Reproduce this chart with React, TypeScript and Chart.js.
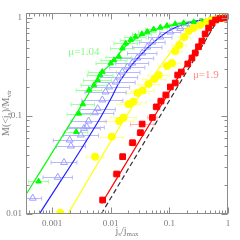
import React, { useEffect, useRef } from "react";
import { Chart, registerables } from "chart.js";

Chart.register(...registerables);

// ---- axes ----
const xTicks = [0.001, 0.01, 0.1, 1];
const yTicks = [0.01, 0.1, 1];
const xMin = 3.6e-4;
const xMax = 1;
const yMin = 0.01;
const yMax = 1.125;

// ---- green filled triangles (mu = 1.04) ----
const greenX = [0.00059, 0.00258, 0.00287, 0.00335, 0.00428, 0.0052, 0.006, 0.0066, 0.0072, 0.01, 0.0114, 0.0138, 0.0158, 0.018, 0.022, 0.0265, 0.034, 0.042, 0.054, 0.07, 0.091, 0.126, 0.175, 0.26, 0.36, 0.5, 0.65];
const greenY = [0.0215, 0.069, 0.106, 0.132, 0.184, 0.207, 0.233, 0.262, 0.283, 0.345, 0.372, 0.403, 0.49, 0.55, 0.6, 0.645, 0.687, 0.725, 0.767, 0.8, 0.835, 0.87, 0.89, 0.91, 0.925, 0.94, 0.955];
const greenErr = [0.17, 0.2, 0.2, 0.2, 0.22, 0.22, 0.24, 0.22, 0.24, 0.25, 0.22, 0.22, 0.2, 0.2, 0.18, 0.18, 0.16, 0.15, 0.14, 0.12, 0.1, 0.1, 0.08, 0.06, 0.05, 0.04, 0.03];

// ---- blue open triangles ----
const blueX = [0.00047, 0.00125, 0.0016, 0.0021, 0.002, 0.0031, 0.0035, 0.0039, 0.0042, 0.0054, 0.006, 0.0072, 0.0082, 0.0094, 0.0122, 0.0138, 0.0158, 0.0192, 0.0233, 0.0284, 0.0345, 0.042, 0.051, 0.07, 0.104, 0.153, 0.227, 0.335, 0.495];
const blueY = [0.0145, 0.0237, 0.0336, 0.0494, 0.0569, 0.064, 0.0748, 0.0778, 0.0889, 0.108, 0.119, 0.146, 0.176, 0.198, 0.222, 0.25, 0.281, 0.316, 0.347, 0.391, 0.44, 0.506, 0.569, 0.64, 0.72, 0.785, 0.849, 0.91, 0.966];
const blueErr = [0.15, 0.25, 0.22, 0.25, 0.28, 0.3, 0.28, 0.3, 0.3, 0.32, 0.3, 0.35, 0.35, 0.35, 0.33, 0.32, 0.3, 0.3, 0.28, 0.28, 0.25, 0.25, 0.22, 0.2, 0.18, 0.15, 0.12, 0.1, 0.08];

// ---- yellow circles ----
const yellowX = [0.00138, 0.00542, 0.0104, 0.0139, 0.0166, 0.0202, 0.0243, 0.0287, 0.0349, 0.0441, 0.0557, 0.0659, 0.0914, 0.111, 0.126, 0.148, 0.18, 0.214, 0.258, 0.335, 0.435, 0.53, 0.643, 0.822];
const yellowY = [0.0103, 0.0385, 0.0615, 0.0889, 0.0966, 0.132, 0.14, 0.172, 0.182, 0.212, 0.239, 0.262, 0.324, 0.347, 0.46, 0.53, 0.64, 0.736, 0.79, 0.849, 0.91, 0.955, 0.98, 1.0];
const yellowErr = [0.18, 0.15, 0.2, 0.25, 0.22, 0.2, 0.22, 0.2, 0.2, 0.18, 0.2, 0.18, 0.15, 0.15, 0.12, 0.12, 0.1, 0.1, 0.08, 0.06, 0.05, 0.04, 0.03, 0.02];

// ---- red squares (mu = 1.9) ----
const redX = [0.0073, 0.01265, 0.016, 0.0236, 0.0322, 0.0344, 0.0515, 0.0603, 0.0718, 0.0873, 0.104, 0.126, 0.139, 0.16, 0.206, 0.243, 0.276, 0.314, 0.358, 0.407, 0.467, 0.535, 0.614, 0.731, 0.925];
const redY = [0.0139, 0.0256, 0.0385, 0.0534, 0.0676, 0.0828, 0.0966, 0.124, 0.142, 0.164, 0.198, 0.217, 0.262, 0.281, 0.34, 0.391, 0.44, 0.509, 0.582, 0.687, 0.79, 0.889, 0.955, 0.99, 1.0];
const redErr = [0.05, 0.06, 0.05, 0.06, 0.06, 0.2, 0.08, 0.06, 0.06, 0.06, 0.05, 0.05, 0.05, 0.05, 0.04, 0.04, 0.04, 0.04, 0.03, 0.03, 0.03, 0.02, 0.02, 0.02, 0.01];

// ---- model curves ----
const greenLineX = [3.6e-4, 0.00362, 0.00678, 0.01, 0.018, 0.0322, 0.0704, 0.227, 1];
const greenLineY = [0.0158, 0.1455, 0.268, 0.34, 0.518, 0.655, 0.79, 0.92, 1.0];
const blueLineX = [6.09e-4, 0.00634, 0.0098, 0.01476, 0.0419, 0.104, 0.255, 1];
const blueLineY = [0.01, 0.091, 0.1455, 0.233, 0.491, 0.755, 0.916, 1.0];
const yellowLineX = [0.00187, 0.0168, 0.0476, 0.104, 0.153, 0.335, 1];
const yellowLineY = [0.01, 0.091, 0.233, 0.44, 0.597, 0.849, 1.0];
const redLineX = [0.00703, 0.0509, 0.126, 0.276, 0.495, 0.731, 1];
const redLineY = [0.0128, 0.091, 0.222, 0.471, 0.79, 0.977, 1.0];
const dashLineX = [0.0069, 0.7];
const dashLineY = [0.01, 1.0];

// ---- annotations ----
const labelTexts = ["μ=1.04", "μ=1.9"];
const labelX = [0.0035, 0.42];
const labelY = [0.45, 0.262];
const labelColors = ["#80ff80", "#ff8a8a"];

const toPts = (xs: number[], ys: number[]) => xs.map((x, i) => ({ x, y: ys[i] }));

const errorBarPlugin = {
  id: "xErrorBars",
  beforeDatasetsDraw(chart: any) {
    const { ctx, chartArea: a, scales } = chart;
    ctx.save();
    ctx.beginPath();
    ctx.rect(a.left, a.top, a.width, a.height);
    ctx.clip();
    chart.data.datasets.forEach((ds: any) => {
      if (!ds.xErr) return;
      ctx.strokeStyle = ds.errColor;
      ctx.lineWidth = 1;
      ds.data.forEach((p: any, i: number) => {
        const f = Math.pow(10, ds.xErr[i]);
        const x0 = scales.x.getPixelForValue(p.x / f);
        const x1 = scales.x.getPixelForValue(p.x * f);
        const y = Math.round(scales.y.getPixelForValue(p.y)) + 0.5;
        ctx.beginPath();
        ctx.moveTo(x0, y);
        ctx.lineTo(x1, y);
        ctx.moveTo(x0, y - 2);
        ctx.lineTo(x0, y + 2);
        ctx.moveTo(x1, y - 2);
        ctx.lineTo(x1, y + 2);
        ctx.stroke();
      });
    });
    ctx.restore();
  },
};

function logTickValues(min: number, max: number) {
  const out: { v: number; major: boolean }[] = [];
  for (let e = Math.floor(Math.log10(min)); e <= Math.ceil(Math.log10(max)); e++) {
    for (let m = 1; m <= 9; m++) {
      const v = m * Math.pow(10, e);
      if (v >= min * 0.9999 && v <= max * 1.0001) out.push({ v, major: m === 1 });
    }
  }
  return out;
}

const framePlugin = {
  id: "frame",
  afterDraw(chart: any) {
    const { ctx, chartArea: a, scales } = chart;
    ctx.save();
    ctx.strokeStyle = "#8c8c8c";
    ctx.lineWidth = 1;
    const L = a.left + 0.5, R = a.right - 0.5, T = a.top + 0.5, B = a.bottom - 0.5;
    ctx.strokeRect(L, T, R - L, B - T);
    ctx.beginPath();
    logTickValues(xMin, xMax).forEach(({ v, major }) => {
      const px = Math.round(scales.x.getPixelForValue(v)) + 0.5;
      const len = major ? 6 : 3;
      ctx.moveTo(px, B);
      ctx.lineTo(px, B - len);
      ctx.moveTo(px, T);
      ctx.lineTo(px, T + len);
    });
    logTickValues(yMin, yMax).forEach(({ v, major }) => {
      const py = Math.round(scales.y.getPixelForValue(v)) + 0.5;
      const len = major ? 6 : 3;
      ctx.moveTo(L, py);
      ctx.lineTo(L + len, py);
      ctx.moveTo(R, py);
      ctx.lineTo(R - len, py);
    });
    ctx.stroke();
    // annotations
    ctx.font = "11px 'Liberation Serif'";
    ctx.textAlign = "center";
    ctx.textBaseline = "middle";
    labelTexts.forEach((t, i) => {
      ctx.fillStyle = labelColors[i];
      ctx.fillText(t, scales.x.getPixelForValue(labelX[i]), scales.y.getPixelForValue(labelY[i]));
    });
    ctx.restore();
  },
};

export default function App() {
  const ref = useRef<HTMLCanvasElement | null>(null);

  useEffect(() => {
    if (!ref.current) return;
    const marker = (data: any, style: string, r: number, fill: string, stroke: string, err: number[], errColor: string) => ({
      data,
      showLine: false,
      pointStyle: style,
      pointRadius: r,
      pointBackgroundColor: fill,
      pointBorderColor: stroke,
      pointBorderWidth: 1,
      xErr: err,
      errColor,
    });
    const line = (data: any, color: string, dash: number[] = []) => ({
      data,
      showLine: true,
      pointRadius: 0,
      borderColor: color,
      borderWidth: 1.2,
      borderDash: dash,
      cubicInterpolationMode: "monotone",
      fill: false,
    });
    const chart = new Chart(ref.current, {
      type: "scatter",
      data: {
        datasets: [
          marker(toPts(redX, redY), "rect", 4, "#ff0000", "#ff0000", redErr, "#ffb0b0") as any,
          marker(toPts(yellowX, yellowY), "circle", 3.6, "#ffff00", "#ffff00", yellowErr, "#ffff99") as any,
          marker(toPts(greenX, greenY), "triangle", 3.2, "#00ff00", "#00ff00", greenErr, "#a0ffa0") as any,
          marker(toPts(blueX, blueY), "triangle", 4, "rgba(0,0,0,0)", "#9c9cff", blueErr, "#b8b8ff") as any,
          line(toPts(dashLineX, dashLineY), "#333333", [5, 3]) as any,
          line(toPts(redLineX, redLineY), "#ff0000") as any,
          line(toPts(yellowLineX, yellowLineY), "#ffff00") as any,
          line(toPts(blueLineX, blueLineY), "#2020ff") as any,
          line(toPts(greenLineX, greenLineY), "#00ff00") as any,
        ],
      },
      options: {
        animation: false,
        responsive: false,
        events: [],
        layout: { padding: { left: 0, top: 13, right: 12, bottom: 0 } },
        plugins: { legend: { display: false }, tooltip: { enabled: false } },
        scales: {
          x: {
            type: "logarithmic",
            min: xMin,
            max: xMax,
            grid: { display: false, drawTicks: false },
            border: { display: false },
            afterBuildTicks: (s: any) => {
              s.ticks = xTicks.map((v) => ({ value: v }));
            },
            afterFit: (s: any) => {
              s.height = 26;
            },
            ticks: {
              autoSkip: false,
              maxRotation: 0,
              padding: 4,
              color: "#7a7a7a",
              font: { family: "'Liberation Serif'", size: 9 },
              callback: (v: any) => String(v),
            },
          },
          y: {
            type: "logarithmic",
            min: yMin,
            max: yMax,
            grid: { display: false, drawTicks: false },
            border: { display: false },
            afterBuildTicks: (s: any) => {
              s.ticks = yTicks.map((v) => ({ value: v }));
            },
            afterFit: (s: any) => {
              s.width = 26;
            },
            ticks: {
              autoSkip: false,
              padding: 4,
              color: "#7a7a7a",
              font: { family: "'Liberation Serif'", size: 9 },
              callback: (v: any) => String(v),
            },
          },
        },
      },
      plugins: [errorBarPlugin, framePlugin],
    } as any);
    return () => chart.destroy();
  }, []);

  const subStyle: React.CSSProperties = { fontSize: "0.7em", verticalAlign: "-0.25em", lineHeight: 0 };
  const titleFont = "10px 'Liberation Serif'";
  return (
    <div style={{ position: "fixed", left: 0, top: 0, width: 240, height: 240, background: "#fff", overflow: "hidden" }}>
      <canvas ref={ref} width={240} height={240} style={{ display: "block", width: 240, height: 240 }} />
      <div
        style={{
          position: "absolute",
          left: 0,
          width: 254,
          top: 226,
          textAlign: "center",
          font: titleFont,
          lineHeight: "10px",
          color: "#7a7a7a",
        }}
      >
        j<span style={subStyle}>s</span>/j<span style={subStyle}>max</span>
      </div>
      <div
        style={{
          position: "absolute",
          left: 6,
          top: 113,
          transform: "translate(-50%,-50%) rotate(-90deg)",
          whiteSpace: "nowrap",
          font: titleFont,
          lineHeight: "10px",
          color: "#7a7a7a",
        }}
      >
        M(&lt;j<span style={subStyle}>s</span>)/M<span style={subStyle}>vir</span>
      </div>
    </div>
  );
}
